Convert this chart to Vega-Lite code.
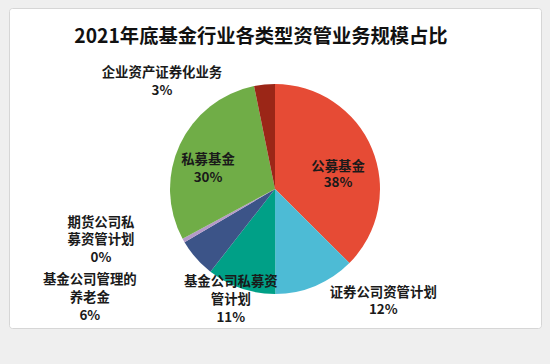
{
  "$schema": "https://vega.github.io/schema/vega-lite/v6.json",
  "width": 532,
  "height": 320,
  "autosize": "none",
  "padding": {"left": 9, "top": 8, "right": 9, "bottom": 36},
  "background": "#efefef",
  "view": {"fill": "white", "stroke": "#d6d6d6", "cornerRadius": 3},
  "title": {
    "text": "2021年底基金行业各类型资管业务规模占比",
    "font": "Noto Sans CJK SC",
    "fontSize": 19.3,
    "fontWeight": "bold",
    "color": "#111111",
    "anchor": "middle",
    "dx": -14,
    "offset": -39
  },
  "config": {
    "text": {"font": "Noto Sans CJK SC"}
  },
  "data": {
    "values": [
      {"category": "公募基金", "value": 37.5, "label": "公募基金\n38%"},
      {"category": "证券公司资管计划", "value": 12.5, "label": "证券公司资管计划\n12%"},
      {"category": "基金公司私募资管计划", "value": 10.6, "label": "基金公司私募资\n管计划\n11%"},
      {"category": "基金公司管理的养老金", "value": 6.0, "label": "基金公司管理的\n养老金\n6%"},
      {"category": "期货公司私募资管计划", "value": 0.6, "label": "期货公司私\n募资管计划\n0%"},
      {"category": "私募基金", "value": 29.7, "label": "私募基金\n30%"},
      {"category": "企业资产证券化业务", "value": 3.2, "label": "企业资产证券化业务\n3%"}
    ]
  },
  "transform": [
    {"window": [{"op": "row_number", "as": "idx"}]}
  ],
  "encoding": {
    "theta": {"field": "value", "type": "quantitative", "stack": true, "sort": null},
    "order": {"field": "idx", "type": "quantitative"}
  },
  "layer": [
    {
      "mark": {"type": "arc", "outerRadius": 105, "yOffset": 21},
      "encoding": {
        "color": {
          "field": "category",
          "type": "nominal",
          "sort": null,
          "legend": null,
          "scale": {
            "domain": ["公募基金", "证券公司资管计划", "基金公司私募资管计划", "基金公司管理的养老金", "期货公司私募资管计划", "私募基金", "企业资产证券化业务"],
            "range": ["#e64b35", "#4dbbd5", "#00a087", "#3c5488", "#b49ac8", "#70ad47", "#9b2617"]
          }
        }
      }
    },
    {
      "mark": {"type": "text", "radius": 65, "yOffset": 21, "dx": 3, "dy": 2.5, "fontSize": 13.4, "fontWeight": "bold", "lineBreak": "\n", "lineHeight": 16, "color": "#1a1a1a"},
      "encoding": {"text": {"condition": {"test": "datum.category === '公募基金'", "field": "label"}, "value": ""}}
    },
    {
      "mark": {"type": "text", "radius": 70, "yOffset": 21, "dx": -3.6, "dy": 0.7, "fontSize": 13.4, "fontWeight": "bold", "lineBreak": "\n", "lineHeight": 17.5, "color": "#1a1a1a"},
      "encoding": {"text": {"condition": {"test": "datum.category === '私募基金'", "field": "label"}, "value": ""}}
    },
    {
      "mark": {"type": "text", "radius": 120, "yOffset": 21, "dx": 62, "dy": -6.5, "fontSize": 13.4, "fontWeight": "bold", "lineBreak": "\n", "lineHeight": 17, "color": "#1a1a1a"},
      "encoding": {"text": {"condition": {"test": "datum.category === '证券公司资管计划'", "field": "label"}, "value": ""}}
    },
    {
      "mark": {"type": "text", "radius": 118, "yOffset": 21, "dx": -6, "dy": -18.6, "fontSize": 13.4, "fontWeight": "bold", "lineBreak": "\n", "lineHeight": 18, "color": "#1a1a1a"},
      "encoding": {"text": {"condition": {"test": "datum.category === '基金公司私募资管计划'", "field": "label"}, "value": ""}}
    },
    {
      "mark": {"type": "text", "radius": 120, "yOffset": 21, "dx": -95, "dy": 12, "fontSize": 13.4, "fontWeight": "bold", "lineBreak": "\n", "lineHeight": 18, "color": "#1a1a1a"},
      "encoding": {"text": {"condition": {"test": "datum.category === '基金公司管理的养老金'", "field": "label"}, "value": ""}}
    },
    {
      "mark": {"type": "text", "radius": 120, "yOffset": 21, "dx": -69.5, "dy": -25, "fontSize": 13.4, "fontWeight": "bold", "lineBreak": "\n", "lineHeight": 17.5, "color": "#1a1a1a"},
      "encoding": {"text": {"condition": {"test": "datum.category === '期货公司私募资管计划'", "field": "label"}, "value": ""}}
    },
    {
      "mark": {"type": "text", "radius": 120, "yOffset": 21, "dx": -101, "dy": 3.4, "fontSize": 13.4, "fontWeight": "bold", "lineBreak": "\n", "lineHeight": 18, "color": "#1a1a1a"},
      "encoding": {"text": {"condition": {"test": "datum.category === '企业资产证券化业务'", "field": "label"}, "value": ""}}
    }
  ]
}
